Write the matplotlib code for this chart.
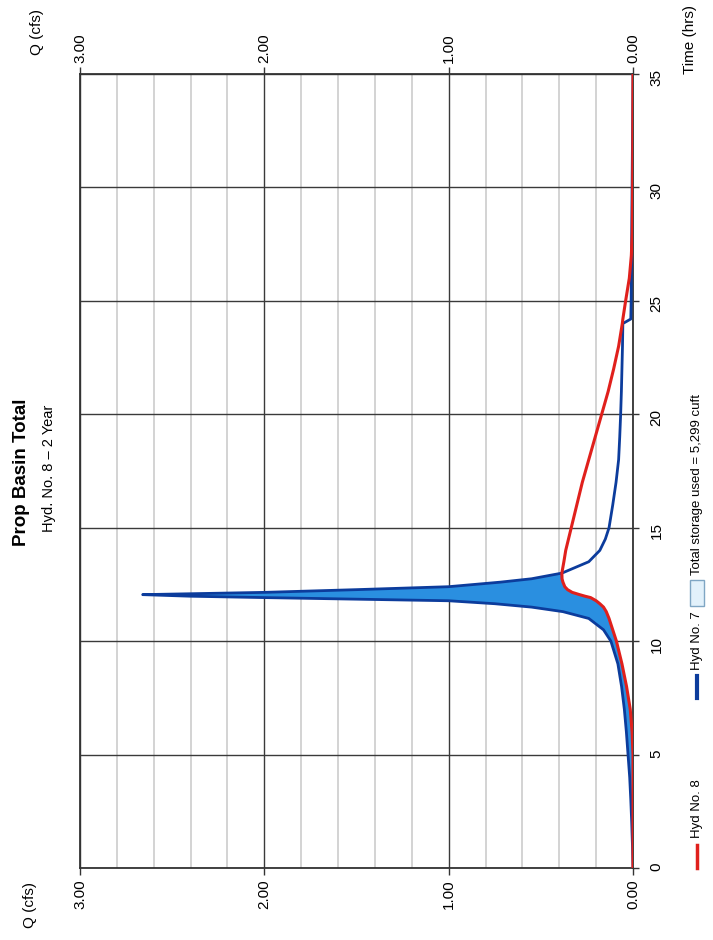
import numpy as np
import matplotlib
matplotlib.use("Agg")
import matplotlib.pyplot as plt
from matplotlib.lines import Line2D
from matplotlib.patches import Rectangle

plt.rcParams['font.family'] = ['Liberation Sans', 'DejaVu Sans']

# Hydrograph data (time in hours, flow in cfs)
time_hrs = [0, 1, 2, 3, 4, 5, 6, 7, 8, 9, 10, 10.5, 11, 11.3, 11.5, 11.65, 11.78,
            11.92, 11.98, 12.05, 12.15, 12.27, 12.4, 12.6, 12.75, 13, 13.5, 14, 14.5,
            15, 16, 17, 18, 19, 20, 21, 22, 23, 24, 24.2, 25, 26, 27, 28, 30, 32, 35]
hyd7_cfs = [0, 0.003, 0.007, 0.012, 0.018, 0.027, 0.036, 0.047, 0.062, 0.082, 0.12,
            0.16, 0.24, 0.38, 0.55, 0.75, 1.0, 2.0, 2.4, 2.66, 2.0, 1.5, 1.0, 0.72,
            0.55, 0.385, 0.24, 0.18, 0.15, 0.13, 0.11, 0.092, 0.078, 0.072, 0.067,
            0.063, 0.06, 0.057, 0.055, 0.012, 0.01, 0.009, 0.008, 0.007, 0.005, 0.003, 0]
hyd8_cfs = [0, 0, 0, 0, 0, 0, 0.005, 0.015, 0.035, 0.06, 0.09, 0.11, 0.13, 0.145,
            0.16, 0.18, 0.2, 0.23, 0.26, 0.29, 0.33, 0.355, 0.37, 0.38, 0.385, 0.386,
            0.375, 0.365, 0.35, 0.335, 0.305, 0.275, 0.24, 0.205, 0.17, 0.135, 0.105,
            0.078, 0.058, 0.055, 0.04, 0.02, 0.009, 0.004, 0.002, 0.001, 0]

q_ticks = [0, 1, 2, 3]
q_labels = ["0.00", "1.00", "2.00", "3.00"]
t_ticks = [0, 5, 10, 15, 20, 25, 30, 35]

title = "Prop Basin Total"
subtitle = "Hyd. No. 8 \u2013 2 Year"
storage_label = "Total storage used = 5,299 cuft"

RED = "#e0201c"
BLUE = "#0c3c9c"
FILL = "#2a8fe0"

W, H = 713, 940
fig = plt.figure(figsize=(W / 100, H / 100), dpi=100)
fig.patch.set_facecolor("white")

def fx(px):
    return px / W

def fy(py):
    return 1 - py / H

# chart is drawn rotated: Q runs right-to-left, time runs upwards
ax = fig.add_axes([fx(80), fy(868), fx(633) - fx(80), fy(74) - fy(868)])
ax.set_xlim(3, 0)
ax.set_ylim(0, 35)

t = np.array(time_hrs)
q7 = np.array(hyd7_cfs)
q8 = np.array(hyd8_cfs)

ax.fill_betweenx(t, q7, q8, where=q7 >= q8, interpolate=True, color=FILL, lw=0, zorder=2)
ax.plot(q7, t, color=BLUE, lw=2.0, zorder=3, solid_capstyle="round")
ax.plot(q8, t, color=RED, lw=2.2, zorder=4, solid_capstyle="round")

ax.set_xticks(q_ticks)
ax.set_xticklabels(q_labels)
ax.set_xticks(np.arange(0, 3.01, 0.2), minor=True)
ax.set_yticks(t_ticks)
ax.set_yticklabels([str(v) for v in t_ticks])

ax.tick_params(axis="x", which="major", top=True, bottom=True, labeltop=True,
               labelbottom=True, labelrotation=90, labelsize=11, length=5,
               width=1, color="#333333", pad=3)
ax.tick_params(axis="x", which="minor", top=False, bottom=False)
ax.tick_params(axis="y", which="major", left=False, labelleft=False, right=True,
               labelright=True, labelrotation=90, labelsize=11, length=4,
               width=1, color="#333333", pad=8)

ax.grid(which="major", axis="both", color="#3a3a3a", lw=1.0, zorder=1)
ax.grid(which="minor", axis="x", color="#cccccc", lw=1.2, zorder=0)
ax.set_axisbelow(True)
for s in ax.spines.values():
    s.set_color("#333333")
    s.set_linewidth(1.3)

# axis titles
fig.text(fx(37), fy(32), "Q (cfs)", rotation=90, ha="center", va="center", fontsize=11)
fig.text(fx(30), fy(905), "Q (cfs)", rotation=90, ha="center", va="center", fontsize=11)
fig.text(fx(690), fy(74), "Time (hrs)", rotation=90, ha="center", va="bottom", fontsize=11)

# title block
fig.text(fx(22), fy(472), title, rotation=90, ha="center", va="center",
         fontsize=13.5, fontweight="bold")
fig.text(fx(49), fy(468), subtitle, rotation=90, ha="center", va="center", fontsize=10.5)

# legend, drawn by hand along the right edge
fig.add_artist(Line2D([fx(697), fx(697)], [fy(868), fy(845)], transform=fig.transFigure,
                      color=RED, lw=2.5))
fig.text(fx(697), fy(838), "Hyd No. 8", rotation=90, ha="center", va="bottom", fontsize=9.5)
fig.add_artist(Line2D([fx(697), fx(697)], [fy(698), fy(676)], transform=fig.transFigure,
                      color=BLUE, lw=3))
fig.text(fx(697), fy(670), "Hyd No. 7", rotation=90, ha="center", va="bottom", fontsize=9.5)
fig.add_artist(Rectangle((fx(690), fy(606)), fx(14), fy(580) - fy(606),
                         transform=fig.transFigure, facecolor="#e2f1fb",
                         edgecolor="#7fa6c4", lw=1))
fig.text(fx(697), fy(575), storage_label, rotation=90, ha="center", va="bottom", fontsize=9.5)

fig.savefig("out.png", dpi=100, facecolor="white")
